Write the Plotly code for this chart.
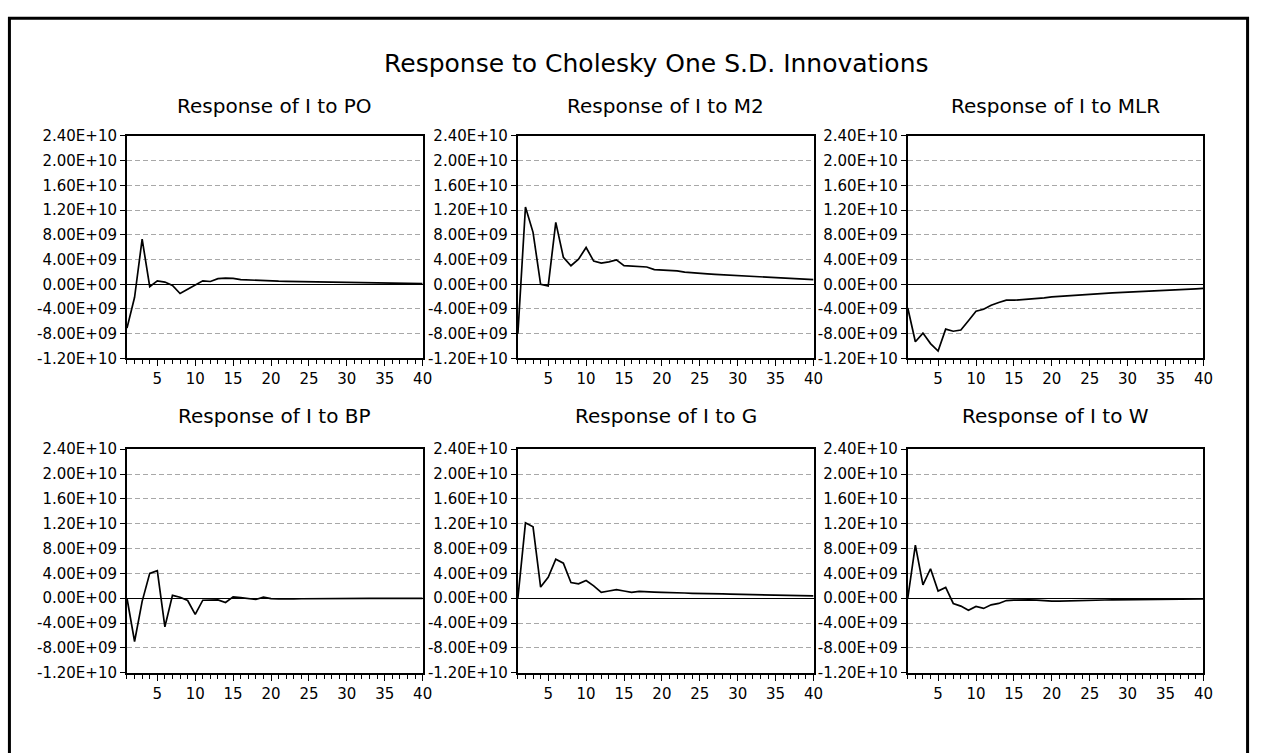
import plotly.graph_objects as go

W, H = 1267, 753

periods = list(range(1, 41))

resp_PO = [-7.1e9, -2.1e9, 7.3e9, -0.4e9, 0.55e9, 0.35e9, -0.2e9, -1.5e9, -0.8e9, -0.15e9,
           0.55e9, 0.45e9, 0.9e9, 1.0e9, 0.95e9, 0.75e9, 0.68e9, 0.62e9, 0.57e9, 0.52e9,
           0.5e9, 0.48e9, 0.46e9, 0.44e9, 0.42e9, 0.4e9, 0.38e9, 0.36e9, 0.34e9, 0.32e9,
           0.31e9, 0.3e9, 0.28e9, 0.26e9, 0.24e9, 0.22e9, 0.19e9, 0.16e9, 0.13e9, 0.1e9]

resp_M2 = [-8.0e9, 12.5e9, 8.4e9, 0.0, -0.26e9, 10.0e9, 4.37e9, 3.0e9, 4.05e9, 5.95e9,
           3.74e9, 3.42e9, 3.63e9, 3.95e9, 3.0e9, 2.9e9, 2.9e9, 2.79e9, 2.37e9, 2.32e9,
           2.26e9, 2.16e9, 1.95e9, 1.9e9, 1.74e9, 1.68e9, 1.61e9, 1.55e9, 1.48e9, 1.42e9,
           1.36e9, 1.3e9, 1.23e9, 1.17e9, 1.1e9, 1.03e9, 0.96e9, 0.88e9, 0.81e9, 0.74e9]

resp_MLR = [-3.84e9, -9.3e9, -7.9e9, -9.6e9, -10.8e9, -7.26e9, -7.6e9, -7.4e9, -5.9e9, -4.37e9,
            -4.05e9, -3.4e9, -2.95e9, -2.58e9, -2.58e9, -2.5e9, -2.37e9, -2.26e9, -2.2e9, -2.05e9,
            -1.95e9, -1.86e9, -1.77e9, -1.68e9, -1.58e9, -1.52e9, -1.46e9, -1.39e9, -1.32e9, -1.26e9,
            -1.21e9, -1.16e9, -1.11e9, -1.05e9, -1.0e9, -0.94e9, -0.88e9, -0.81e9, -0.74e9, -0.68e9]

resp_BP = [0.0, -6.97e9, -0.5e9, 4.0e9, 4.43e9, -4.6e9, 0.47e9, 0.16e9, -0.37e9, -2.6e9,
           -0.32e9, -0.32e9, -0.26e9, -0.69e9, 0.21e9, 0.1e9, 0.0, -0.2e9, 0.16e9, -0.05e9,
           -0.1e9, -0.15e9, -0.1e9, -0.08e9, -0.06e9, -0.05e9, -0.05e9, -0.04e9, -0.04e9, -0.03e9,
           -0.03e9, -0.03e9, -0.02e9, -0.02e9, -0.02e9, -0.02e9, -0.01e9, -0.01e9, -0.01e9, -0.01e9]

resp_G = [0.0, 12.14e9, 11.5e9, 1.8e9, 3.38e9, 6.28e9, 5.65e9, 2.53e9, 2.32e9, 2.85e9,
          2.0e9, 0.95e9, 1.16e9, 1.37e9, 1.16e9, 0.95e9, 1.1e9, 1.1e9, 1.0e9, 0.95e9,
          0.95e9, 0.9e9, 0.84e9, 0.79e9, 0.79e9, 0.76e9, 0.72e9, 0.69e9, 0.66e9, 0.63e9,
          0.61e9, 0.59e9, 0.57e9, 0.55e9, 0.53e9, 0.5e9, 0.47e9, 0.44e9, 0.41e9, 0.37e9]

resp_W = [0.0, 8.55e9, 2.16e9, 4.75e9, 1.16e9, 1.74e9, -0.84e9, -1.27e9, -1.95e9, -1.32e9,
          -1.64e9, -1.06e9, -0.84e9, -0.37e9, -0.32e9, -0.26e9, -0.26e9, -0.32e9, -0.42e9, -0.47e9,
          -0.47e9, -0.42e9, -0.42e9, -0.37e9, -0.32e9, -0.3e9, -0.28e9, -0.25e9, -0.23e9, -0.21e9,
          -0.2e9, -0.19e9, -0.18e9, -0.17e9, -0.16e9, -0.15e9, -0.13e9, -0.12e9, -0.11e9, -0.1e9]

series = [resp_PO, resp_M2, resp_MLR, resp_BP, resp_G, resp_W]
panel_titles = ["Response of I to PO", "Response of I to M2", "Response of I to MLR",
                "Response of I to BP", "Response of I to G", "Response of I to W"]
main_title = "Response to Cholesky One S.D. Innovations"

y_tick_vals = [2.4e10, 2.0e10, 1.6e10, 1.2e10, 8.0e9, 4.0e9, 0.0, -4.0e9, -8.0e9, -1.2e10]
y_tick_text = ["2.40E+10", "2.00E+10", "1.60E+10", "1.20E+10", "8.00E+09", "4.00E+09",
               "0.00E+00", "-4.00E+09", "-8.00E+09", "-1.20E+10"]
x_tick_vals = [5, 10, 15, 20, 25, 30, 35, 40]
x_tick_text = ["5", "10", "15", "20", "25", "30", "35", "40"]

FONT = "DejaVu Sans"

# pixel layout
cols_px = [(128, 426), (522, 820), (915, 1213)]
rows_px = [(130, 358), (451, 680)]
title_y_px = [99, 417]

fig = go.Figure()
annotations = []
for i, vals in enumerate(series):
    r, c = divmod(i, 3)
    n = i + 1
    xa = "x" if n == 1 else f"x{n}"
    ya = "y" if n == 1 else f"y{n}"
    fig.add_trace(go.Scatter(x=periods, y=vals, mode="lines",
                             line=dict(color="black", width=1.7),
                             xaxis=xa, yaxis=ya, showlegend=False, hoverinfo="skip"))
    x0, x1 = cols_px[c]
    y0, y1 = rows_px[r]
    xdom = [x0 / W, x1 / W]
    ydom = [1 - y1 / H, 1 - y0 / H]
    xkey = "xaxis" if n == 1 else f"xaxis{n}"
    ykey = "yaxis" if n == 1 else f"yaxis{n}"
    fig.layout[xkey] = dict(
        domain=xdom, anchor=ya, range=[1, 40],
        tickmode="array", tickvals=x_tick_vals, ticktext=x_tick_text,
        ticks="outside", ticklen=6, tickwidth=1, tickcolor="black",
        minor=dict(dtick=1, tick0=0, ticks="outside", ticklen=4, tickwidth=1, tickcolor="black",
                   showgrid=False),
        showgrid=False, zeroline=False,
        showline=True, mirror=True, linecolor="black", linewidth=2,
        tickfont=dict(family=FONT, size=15, color="black"),
        fixedrange=True,
    )
    fig.layout[ykey] = dict(
        domain=ydom, anchor=xa, range=[-1.2e10, 2.4e10],
        tickmode="array", tickvals=y_tick_vals, ticktext=y_tick_text,
        ticks="outside", ticklen=5, tickwidth=1, tickcolor="black",
        showgrid=True, gridcolor="#a8a8a8", gridwidth=1, griddash="5px,3px",
        zeroline=True, zerolinecolor="black", zerolinewidth=1,
        showline=True, mirror=True, linecolor="black", linewidth=2,
        tickfont=dict(family=FONT, size=15, color="black"),
        fixedrange=True,
    )
    annotations.append(dict(
        text=panel_titles[i], x=(x0 + x1) / 2 / W, y=1 - title_y_px[r] / H,
        xref="paper", yref="paper", xanchor="center", yanchor="middle",
        showarrow=False, font=dict(family=FONT, size=20, color="black")))

annotations.append(dict(
    text=main_title, x=662 / W, y=1 - 56 / H, xref="paper", yref="paper",
    xanchor="center", yanchor="middle", showarrow=False,
    font=dict(family=FONT, size=25, color="black")))

fig.update_layout(
    width=W, height=H, margin=dict(l=0, r=0, t=0, b=0),
    paper_bgcolor="white", plot_bgcolor="white",
    annotations=annotations,
    shapes=[dict(type="rect", xref="paper", yref="paper",
                 x0=9.5 / W, x1=1 - 9.5 / W, y0=-0.05, y1=1 - 9.5 / H,
                 line=dict(color="black", width=3), fillcolor="rgba(0,0,0,0)")],
    font=dict(family=FONT),
)

fig.write_html(
    "out.html",
    config={"displayModeBar": False},
    post_script="document.body.style.margin='0';document.body.style.padding='0';"
                "document.body.style.overflow='hidden';",
)
